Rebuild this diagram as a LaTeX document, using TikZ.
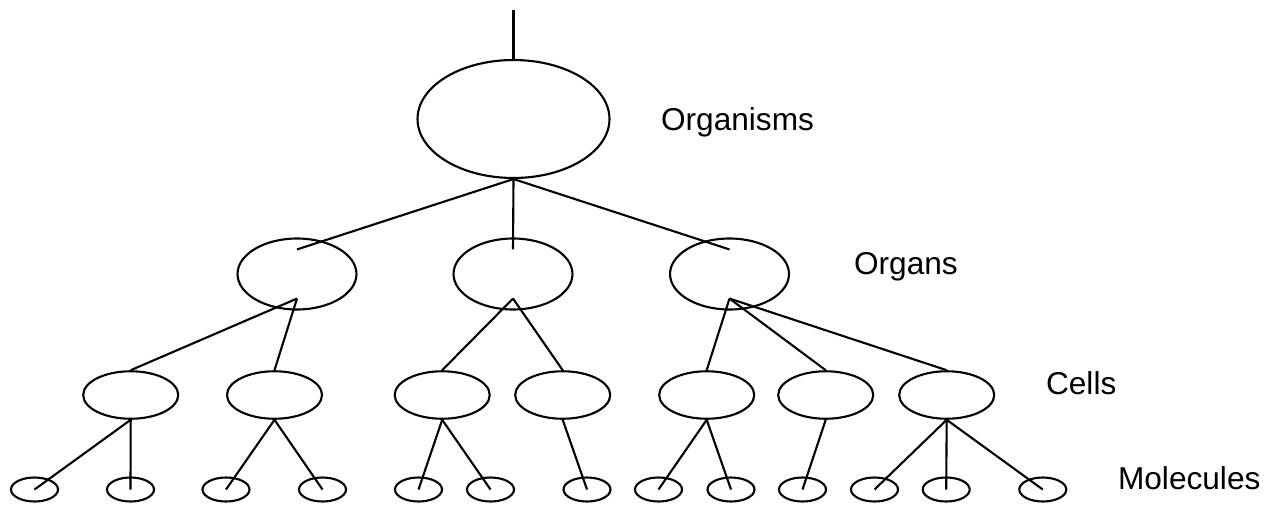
\documentclass[tikz,border=0pt]{standalone}
\usepackage{fontspec}
\setmainfont{Liberation Sans}
\usetikzlibrary{shapes.geometric}
\begin{document}
\begin{tikzpicture}[x=0.02cm,y=-0.02cm,line width=1.2pt,
    blob/.style={draw,ellipse,inner sep=0pt},
    level/.style={anchor=base west,inner sep=0pt,font=\fontsize{18}{21}\selectfont}]
  \useasboundingbox (0,0) rectangle (1274,504);
  \node[blob,minimum width=3.84cm,minimum height=2.36cm] (org) at (513.5,119) {};
  \coordinate (stem) at (513.5,10);
  \draw (stem) -- (org.north);
  \foreach \n/\x in {1/297,2/513,3/729.5}
    \node[blob,minimum width=2.38cm,minimum height=1.42cm] (organ\n) at (\x,274) {};
  \foreach \n/\x in {1/130.7,2/274.5,3/442.2,4/562.7,5/706.7,6/825.7,7/946.7}
    \node[blob,minimum width=1.9cm,minimum height=0.95cm] (cell\n) at (\x,395) {};
  \foreach \n/\x in {1/34.5,2/130.5,3/226,4/322.5,5/418.5,6/490.5,7/587,8/658.5,9/731,10/802.5,11/874.5,12/946.2,13/1042.8}
    \node[blob,minimum width=0.94cm,minimum height=0.48cm] (mol\n) at (\x,489.5) {};
  \foreach \n in {1,2,3}
    \draw (org.south) -- ([yshift=-0.24cm]organ\n.north);
  \foreach \a/\b in {1/1,1/2,2/3,2/4,3/5,3/6,3/7}
    \draw ([yshift=0.24cm]organ\a.south) -- (cell\b.north);
  \foreach \a/\b in {1/1,1/2,2/3,2/4,3/5,3/6,4/7,5/8,5/9,6/10,7/11,7/12,7/13}
    \draw (cell\a.south) -- (mol\b.center);
  \node[level] (lorg) at (660,130) {Organisms};
  \node[level] (lorgan) at (853,274) {Organs};
  \node[level] (lcell) at (1045,394) {Cells};
  \node[level] (lmol) at (1117,489) {Molecules};
\end{tikzpicture}
\end{document}
